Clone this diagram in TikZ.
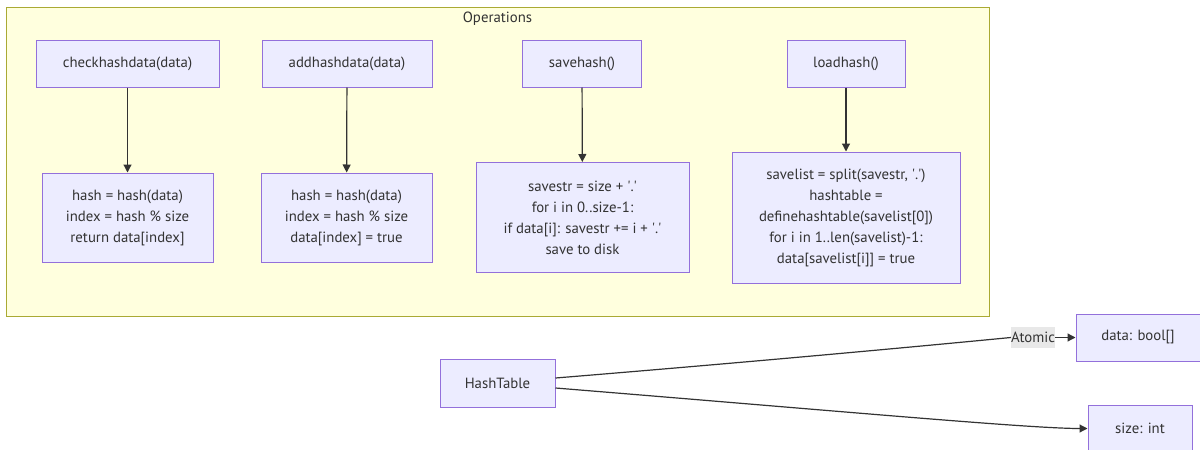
\documentclass[tikz,border=0pt]{standalone}
\usepackage{fontspec}
\setmainfont{PT Sans}
\usetikzlibrary{arrows.meta}
\definecolor{nodefill}{HTML}{ECECFF}
\definecolor{nodestroke}{HTML}{9370DB}
\definecolor{clfill}{HTML}{FFFFDE}
\definecolor{clstroke}{HTML}{AAAA33}
\definecolor{txt}{HTML}{333333}
\definecolor{edge}{HTML}{333333}
\definecolor{lblbg}{HTML}{E8E8E8}
\newcommand\sq{\textquotesingle}
\tikzset{
  box/.style={draw=nodestroke, fill=nodefill, line width=1pt, inner sep=0pt,
    text=txt, align=center, font=\fontsize{14.8}{21}\selectfont},
  conn/.style={draw=edge, line width=1.2pt, -{Triangle[length=8pt,width=8pt]}},
  plain/.style={draw=edge, line width=1.2pt},
  lbl/.style={fill=lblbg, inner sep=0pt, text=txt, font=\fontsize{14.8}{17}\selectfont,
    minimum width=44pt, minimum height=21pt},
}
\begin{document}
\begin{tikzpicture}[x=1pt,y=-1pt]
\useasboundingbox (0,0) rectangle (1200,450);
\fill[white] (0,0) rectangle (1200,450);
% cluster
\draw[fill=clfill, draw=clstroke, line width=1pt] (6,7) rectangle (989,316);
\node[text=txt, font=\fontsize{14.8}{17}\selectfont] (optitle) at (497.5,18.5) {Operations};
% top nodes
\node[box, minimum width=183pt, minimum height=47pt] (ch) at (127.5,63.5) {checkhashdata(data)};
\node[box, minimum width=170pt, minimum height=47pt] (ad) at (347,63.5) {addhashdata(data)};
\node[box, minimum width=119pt, minimum height=47pt] (sv) at (582,63.5) {savehash()};
\node[box, minimum width=118pt, minimum height=47pt] (ld) at (846,63.5) {loadhash()};
% bodies
\node[box, minimum width=171pt, minimum height=89pt] (chb) at (127.5,217.5)
  {hash = hash(data)\\index = hash \% size\\return data[index]};
\node[box, minimum width=171pt, minimum height=89pt] (adb) at (346.5,217.5)
  {hash = hash(data)\\index = hash \% size\\data[index] = true};
\node[box, minimum width=213pt, minimum height=110pt] (svb) at (582.5,217.5)
  {savestr = size + \sq.\sq\\for i in 0..size-1:\\if data[i]: savestr += i + \sq.\sq\\save to disk};
\node[box, minimum width=228pt, minimum height=131pt] (ldb) at (846,217.5)
  {savelist = split(savestr, \sq.\sq)\\hashtable =\\definehashtable(savelist[0])\\for i in 1..len(savelist)-1:\\data[savelist[i]] = true};
\draw[conn] (ch) -- (chb);
\draw[conn] (ad) -- (adb);
\draw[conn] (sv) -- (svb);
\draw[conn] (ld) -- (ldb);
% lower part
\node[box, minimum width=115pt, minimum height=48pt] (ht) at (497.5,383) {HashTable};
\node[box, minimum width=124pt, minimum height=47pt] (data) at (1138,337.5) {data: bool[]};
\node[box, minimum width=104pt, minimum height=47pt] (size) at (1140,428.5) {size: int};
\node[lbl] (atomic) at (1033,337.5) {Atomic};
\draw[plain] ([yshift=5pt]ht.east) .. controls (800,358) and (985,340) .. (atomic.west);
\draw[conn] (atomic.east) -- (data.west);
\draw[conn] ([yshift=-5pt]ht.east) .. controls (850,412) and (1030,428.5) .. (size.west);
\end{tikzpicture}
\end{document}
